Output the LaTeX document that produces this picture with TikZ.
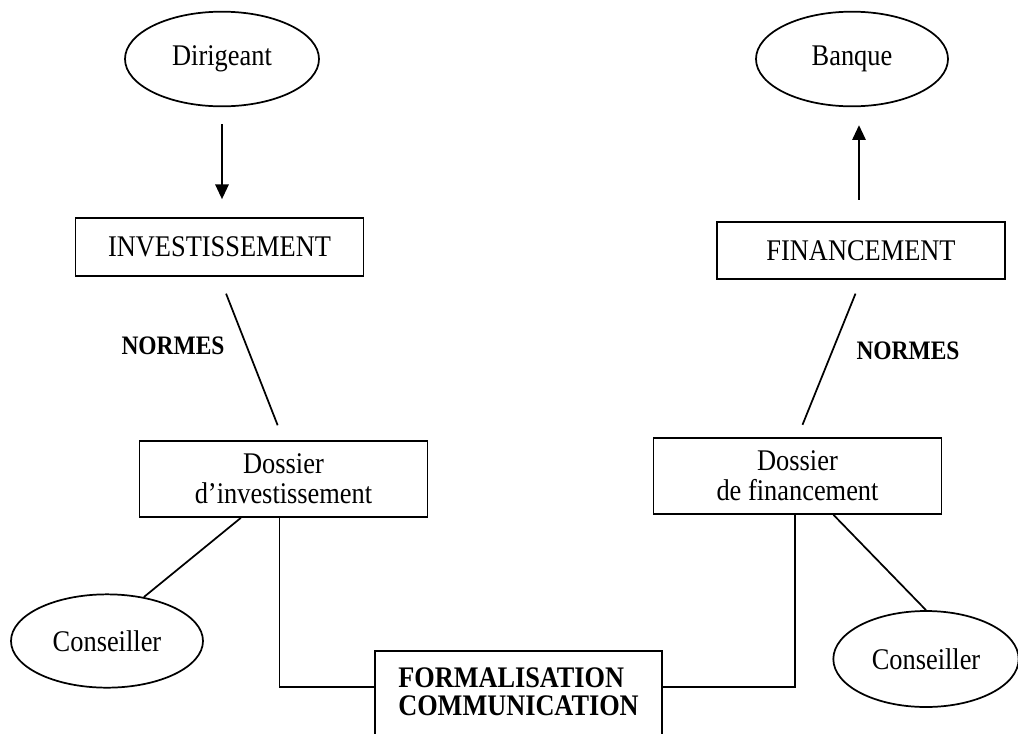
\documentclass[tikz,border=0pt]{standalone}
\usepackage{fontspec}
\setmainfont{Liberation Serif}[FakeStretch=0.88]
\usetikzlibrary{arrows.meta,shapes.geometric}
\tikzset{
    oval-node/.style = {draw, ellipse, line width=1.3pt, minimum width=144pt, minimum height=71pt, inner sep=0pt, font=\fontsize{22.5}{22.8}\selectfont},
    plain-box/.style = {draw, rectangle, line width=1.3pt, minimum width=216pt, inner sep=0pt, align=center, font=\fontsize{22.5}{22.5}\selectfont},
    normes-label/.style = {font=\bfseries\fontsize{20}{20}\selectfont},
    link-line/.style = {line width=1.3pt},
    flow-arrow/.style = {line width=1.3pt, -{Triangle[length=11pt,width=10pt]}},
}

\begin{document}
\begin{tikzpicture}[x=0.75pt, y=-0.75pt]
\path[use as bounding box, clip] (0,0) rectangle (1018,733);

% top ovals
\node[oval-node, minimum width=145.5pt] (dirigeant) at (222,59) {Dirigeant};
\node[oval-node] (banque) at (852,59) {Banque};

% boxes
\node[plain-box, minimum height=43.5pt] (investissement) at (219.5,247) {INVESTISSEMENT};
\node[plain-box, minimum height=43pt] (financement) at (861,250.5) {FINANCEMENT};
\node[plain-box, minimum height=57pt] (dossierinv) at (283.5,479) {Dossier\\d’investissement};
\node[plain-box, minimum height=57pt] (dossierfin) at (797.5,476) {Dossier\\de financement};
\node[plain-box, anchor=north, minimum width=215pt, align=left, inner ysep=12.5pt, text depth=45pt,
      font=\bfseries\fontsize{22.4}{21}\selectfont] (formalisation) at (518.5,650) {FORMALISATION\\COMMUNICATION};

% bottom ovals
\node[oval-node, minimum height=70pt] (conseillerinv) at (107,641) {Conseiller};
\node[oval-node, minimum width=139pt, minimum height=72pt] (conseillerfin) at (926,659) {Conseiller};

% labels
\node[normes-label] (normesinv) at (173,346) {NORMES};
\node[normes-label] (normesfin) at (908,351) {NORMES};

% connectors
\draw[flow-arrow, shorten <=12.75pt, shorten >=13.5pt] (dirigeant.south) -- (dirigeant.south |- investissement.north);
\draw[flow-arrow, shorten <=15.75pt, shorten >=13.5pt] ([xshift=-1.5pt]financement.north) -- ([xshift=-1.5pt]financement.north |- banque.south);
\draw[link-line, shorten <=13.5pt, shorten >=12pt] (investissement.south) -- (dossierinv.north);
\draw[link-line, shorten <=11pt, shorten >=10pt] (financement.south) -- (dossierfin.north);
\draw[link-line] ([xshift=-32pt]dossierinv.south) -- (conseillerinv.50);
\draw[link-line] ([xshift=27pt]dossierfin.south) -- (conseillerfin.north);
\draw[link-line] ([xshift=-3pt]dossierinv.south) |- ([yshift=-27.75pt]formalisation.north west);
\draw[link-line] ([xshift=-2pt]dossierfin.south) |- ([yshift=-27.75pt]formalisation.north east);
\end{tikzpicture}
\end{document}
